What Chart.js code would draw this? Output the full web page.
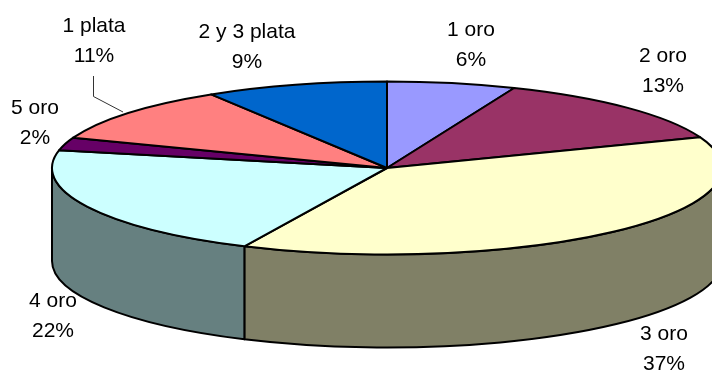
<!DOCTYPE html>
<html>
<head>
<meta charset="utf-8">
<style>
    html, body { margin: 0; padding: 0; background: #fff; }
    canvas { display: block; }
</style>
<script src="https://cdn.jsdelivr.net/npm/chart.js@4/dist/chart.umd.min.js"></script>
</head>
<body>
<canvas id="medalChart" width="712" height="370"></canvas>
<script>
// chart data
const categories = ['1 oro', '2 oro', '3 oro', '4 oro', '5 oro', '1 plata', '2 y 3 plata'];
// slice shares, the printed labels are below
const shares = [6.2, 13.0, 37.8, 21.3, 2.4, 10.5, 8.8];
const percentLabels = ['6%', '13%', '37%', '22%', '2%', '11%', '9%'];
const topColors = ['#9999FF', '#993366', '#FFFFCC', '#CCFFFF', '#660066', '#FF8080', '#0066CC'];
const wallColors = ['#4C4C80', '#4C1933', '#808066', '#668080', '#330033', '#804040', '#003366'];

// label centres, same order as categories
const labelX = [471, 663, 664, 53, 35, 94, 247];
const labelY = [30, 56, 334, 301, 108, 26, 32];
const lineGap = 30;

// fake 3d disc geometry
const cx = 387, cy = 168, rx = 335, ry = 86.5, depth = 93;
const inkColor = '#000000';

const disc3d = {
    id: 'disc3d',
    // the library's arcs give the angles, the ellipse is drawn here
    beforeDatasetsDraw(chart) {
        const ctx = chart.ctx;
        const arcs = chart.getDatasetMeta(0).data;
        ctx.save();
        ctx.lineWidth = 2;
        ctx.strokeStyle = inkColor;
        ctx.lineJoin = 'round';

        // front wall, only the part facing the viewer
        arcs.forEach((arc, i) => {
            const a0 = Math.max(arc.startAngle, 0);
            const a1 = Math.min(arc.endAngle, Math.PI);
            if (a1 <= a0) return;
            ctx.beginPath();
            ctx.ellipse(cx, cy, rx, ry, 0, a0, a1);
            ctx.ellipse(cx, cy + depth, rx, ry, 0, a1, a0, true);
            ctx.closePath();
            ctx.fillStyle = wallColors[i];
            ctx.fill();
            ctx.stroke();
        });

        // top face
        arcs.forEach((arc, i) => {
            ctx.beginPath();
            ctx.moveTo(cx, cy);
            ctx.ellipse(cx, cy, rx, ry, 0, arc.startAngle, arc.endAngle);
            ctx.closePath();
            ctx.fillStyle = topColors[i];
            ctx.fill();
            ctx.stroke();
        });
        ctx.restore();
        return false;
    },
    afterDraw(chart) {
        const ctx = chart.ctx;
        ctx.save();
        // leader line for 1 plata
        ctx.strokeStyle = '#333333';
        ctx.lineWidth = 1;
        ctx.beginPath();
        ctx.moveTo(93.5, 76);
        ctx.lineTo(93.5, 96.5);
        ctx.lineTo(123, 112);
        ctx.stroke();

        // labels
        ctx.fillStyle = inkColor;
        ctx.font = '21px "Liberation Sans", Arial, sans-serif';
        ctx.textAlign = 'center';
        ctx.textBaseline = 'middle';
        categories.forEach((name, i) => {
            ctx.fillText(name, labelX[i], labelY[i]);
            ctx.fillText(percentLabels[i], labelX[i], labelY[i] + lineGap);
        });
        ctx.restore();
    }
};

new Chart(document.getElementById('medalChart').getContext('2d'), {
    type: 'pie',
    data: {
        labels: categories,
        datasets: [{ data: shares, backgroundColor: topColors }]
    },
    options: {
        responsive: false,
        animation: false,
        events: [],
        plugins: {
            legend: { display: false },
            tooltip: { enabled: false }
        }
    },
    plugins: [disc3d]
});
</script>
</body>
</html>
